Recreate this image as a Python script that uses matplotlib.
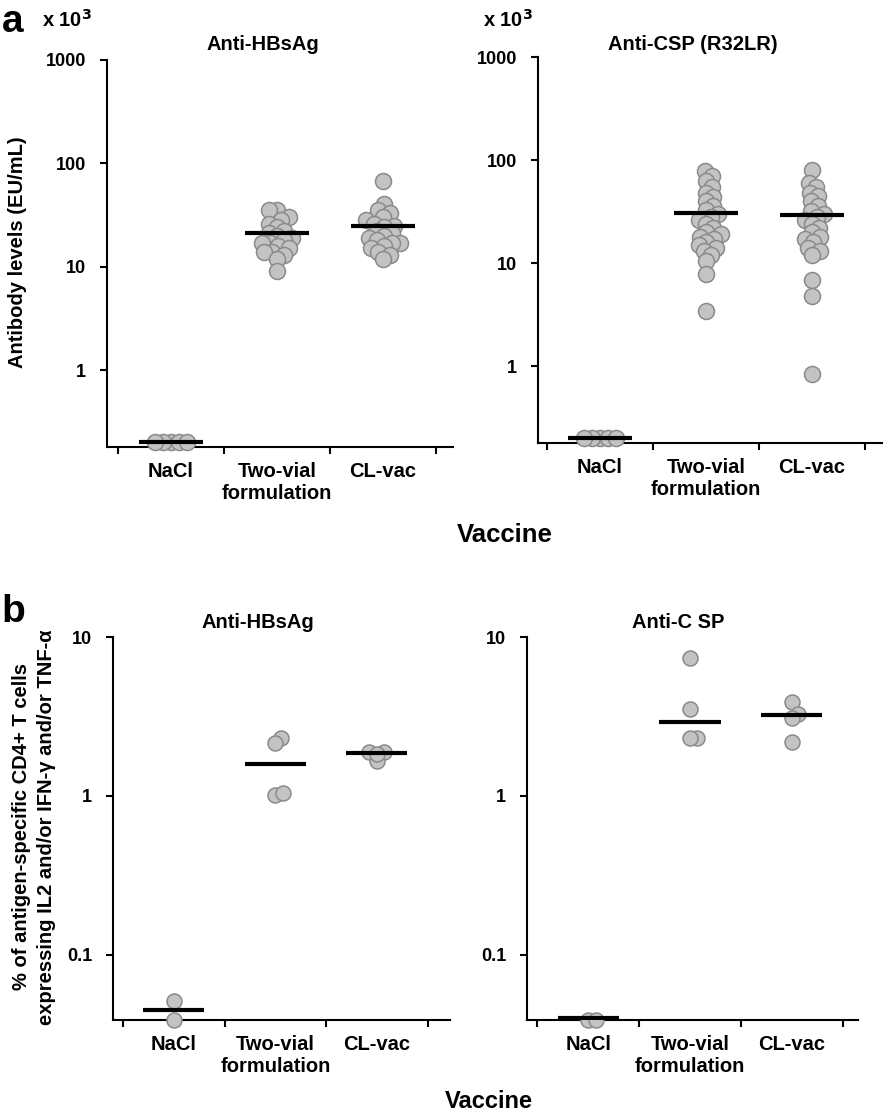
import numpy as np
import matplotlib
matplotlib.use("Agg")
import matplotlib.pyplot as plt

plt.rcParams['font.family'] = ['Liberation Sans', 'DejaVu Sans']
plt.rcParams['font.weight'] = 'bold'

groups = ["NaCl", "Two-vial\nformulation", "CL-vac"]

# panel a: antibody levels, x10^3 EU/mL
hbs_a = [
    [0.2, 0.2, 0.2, 0.2, 0.2],
    [35, 35, 30, 28, 26, 24, 22, 21, 20, 19, 18, 17, 17, 16, 15, 14, 14, 13, 12, 9],
    [67, 40, 35, 33, 30, 28, 26, 25, 24, 22, 21, 20, 19, 18, 17, 17, 16, 15, 14, 13, 12],
]
hbs_a_gm = [0.2, 21, 25]

csp_a = [
    [0.2, 0.2, 0.2, 0.2, 0.2],
    [78, 70, 62, 55, 48, 44, 40, 36, 33, 30, 28, 26, 24, 22, 20, 19, 18, 17, 16, 15,
     14, 13, 12, 10.4, 7.8, 3.4],
    [80, 60, 55, 48, 45, 40, 36, 32, 30, 28, 26, 24, 22, 20, 18, 17, 16, 14, 13, 12,
     6.8, 4.8, 0.85],
]
csp_a_gm = [0.2, 30.5, 29]

# panel b: % antigen-specific CD4+ T cells
hbs_b = [[0.051, 0.039], [2.3, 2.15, 1.02, 1.05], [1.9, 1.9, 1.65, 1.85]]
hbs_b_gm = [0.045, 1.6, 1.86]
csp_b = [[0.039, 0.039], [7.4, 3.5, 2.3, 2.3], [3.9, 3.3, 3.1, 2.2]]
csp_b_gm = [0.04, 2.9, 3.25]

W, H = 886, 1116
fig = plt.figure(figsize=(W / 100, H / 100), dpi=100)


def px_axes(l, t, r, b):
    return fig.add_axes([l / W, 1 - b / H, (r - l) / W, (b - t) / H])


def ftext(x, y, s, **kw):
    kw.setdefault('ha', 'center')
    kw.setdefault('va', 'center')
    return fig.text(x / W, 1 - y / H, s, fontweight='bold', **kw)


def swarm_x(ax, xc, vals, diam, gap=0.5):
    # simple beeswarm in pixel space
    tr = ax.transData
    ppu = tr.transform((1, 1))[0] - tr.transform((0, 1))[0]
    placed = []
    xs = np.zeros(len(vals))
    order = np.argsort(vals)
    for i in order:
        y = tr.transform((xc, vals[i]))[1]
        best = 0
        for k in range(0, 200):
            ok_any = False
            for off in ([0] if k == 0 else [k * 0.5, -k * 0.5]):
                if all((off - px) ** 2 + (y - py) ** 2 >= (gap * diam) ** 2 for px, py in placed):
                    best = off
                    ok_any = True
                    break
            if ok_any:
                break
        placed.append((best, y))
        xs[i] = xc + best / ppu
    return xs


def panel(ax, data, gm, ylim, yticks, yticklabels, xlim, diam):
    ax.set_yscale('log')
    ax.set_ylim(*ylim)
    ax.set_xlim(*xlim)
    for s in ['top', 'right']:
        ax.spines[s].set_visible(False)
    for s in ['left', 'bottom']:
        ax.spines[s].set_linewidth(1.5)
    ax.yaxis.set_minor_locator(matplotlib.ticker.NullLocator())
    ax.set_yticks(yticks)
    ax.set_yticklabels(yticklabels, fontsize=13, fontweight='bold')
    ax.tick_params(axis='y', length=5, width=1.5, pad=10)
    ax.set_xticks([-0.5, 0.5, 1.5, 2.5])
    ax.set_xticklabels([])
    ax.tick_params(axis='x', which='major', length=5, width=1.5)
    ax.set_xticks([0, 1, 2], minor=True)
    ax.set_xticklabels(groups, minor=True, fontsize=14.5, fontweight='bold')
    ax.tick_params(axis='x', which='minor', length=0, pad=11)
    for i, vals in enumerate(data):
        xs = swarm_x(ax, i, vals, diam)
        ax.scatter(xs, vals, s=(diam * 0.72) ** 2, color='#c3c3c3',
                   edgecolor='#8a8a8a', linewidth=1.1, zorder=3, clip_on=False)
        ax.hlines(gm[i], i - 0.3, i + 0.3, color='black', lw=3, zorder=4)


ax1 = px_axes(107, 60, 453, 447)
panel(ax1, hbs_a, hbs_a_gm, (0.18, 1000), [1, 10, 100, 1000], ['1', '10', '100', '1000'],
      (-0.6, 2.66), 16)
ax2 = px_axes(538, 57, 882, 443)
panel(ax2, csp_a, csp_a_gm, (0.18, 1000), [1, 10, 100, 1000], ['1', '10', '100', '1000'],
      (-0.585, 2.66), 16)
ax3 = px_axes(113, 637, 450, 1020)
panel(ax3, hbs_b, hbs_b_gm, (0.039, 10), [0.1, 1, 10], ['0.1', '1', '10'],
      (-0.6, 2.72), 15)
ax4 = px_axes(527, 637, 858, 1020)
panel(ax4, csp_b, csp_b_gm, (0.039, 10), [0.1, 1, 10], ['0.1', '1', '10'],
      (-0.6, 2.65), 15)

# panel titles
ftext(263, 45, 'Anti-HBsAg', fontsize=14.5)
ftext(693, 45, 'Anti-CSP (R32LR)', fontsize=14.5)
ftext(258, 622, 'Anti-HBsAg', fontsize=14.5)
ftext(678, 622, 'Anti-C SP', fontsize=14.5)

# axis labels
ftext(18, 252, 'Antibody levels (EU/mL)', fontsize=14.5, rotation=90)
ftext(34, 827, '% of antigen-specific CD4+ T cells\nexpressing IL2 and/or IFN-\u03b3 and/or TNF-\u03b1',
      fontsize=14.5, rotation=90, linespacing=1.4)
ftext(505, 535, 'Vaccine', fontsize=18.5)
ftext(489, 1101, 'Vaccine', fontsize=17)

ftext(13, 22, 'a', fontsize=28)
ftext(13, 612, 'b', fontsize=28)
ftext(42, 20, r'x 10$^{\mathbf{3}}$', fontsize=14.5, ha='left')
ftext(483, 20, r'x 10$^{\mathbf{3}}$', fontsize=14.5, ha='left')

fig.savefig('out.png', dpi=100)
